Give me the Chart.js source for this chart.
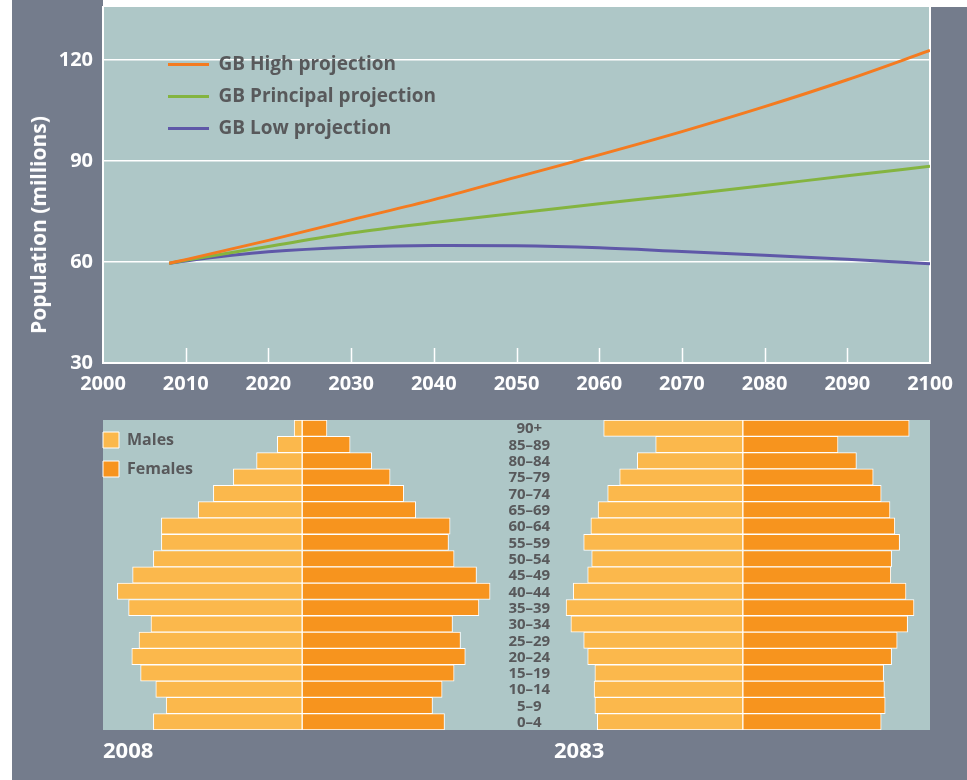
<!DOCTYPE html>
<html><head><meta charset="utf-8">
<script src="https://cdn.jsdelivr.net/npm/chart.js@4.4.1/dist/chart.umd.min.js"></script>
<style>
html,body{margin:0;padding:0;background:#fff;width:967px;height:780px;overflow:hidden;font-family:'Open Sans',sans-serif;}
#frame{position:absolute;left:12px;top:0;width:955px;height:780px;background:#747c8c;}
#topstrip{position:absolute;left:103px;top:0;width:864px;height:7px;background:#fff;}
#c1{position:absolute;left:12px;top:0;}
#c2{position:absolute;left:12px;top:400px;}
.ytitle{position:absolute;left:38px;top:225px;transform:translate(-50%,-50%) rotate(-90deg);color:#fff;font-weight:700;font-size:21px;white-space:nowrap;line-height:24px;}
.year{position:absolute;color:#fff;font-weight:700;font-size:22px;top:736px;line-height:26px;}
</style></head>
<body>
<div id="frame"></div>
<div id="topstrip"></div>
<canvas id="c1" width="955" height="400"></canvas>
<canvas id="c2" width="955" height="380"></canvas>
<div class="ytitle">Population (millions)</div>
<div class="year" id="y1" style="left:103px"></div>
<div class="year" id="y2" style="left:554px"></div>
<script>
// ---------- data: population projections (millions) ----------
const years = [2008, 2010, 2020, 2030, 2040, 2050, 2060, 2070, 2080, 2090, 2100];
const highProjection      = [59.6, 60.7, 66.4, 72.5, 78.5, 85.2, 91.8, 98.7, 106.1, 114.1, 122.8];
const principalProjection = [59.6, 60.5, 64.6, 68.6, 71.7, 74.5, 77.3, 79.9, 82.7, 85.6, 88.4];
const lowProjection       = [59.6, 60.3, 63.0, 64.4, 64.9, 64.8, 64.2, 63.1, 62.0, 60.8, 59.5];
const seriesNames = ['GB High projection', 'GB Principal projection', 'GB Low projection'];
const yTickValues = [30, 60, 90, 120];
const xTickValues = [2000, 2010, 2020, 2030, 2040, 2050, 2060, 2070, 2080, 2090, 2100];

// ---------- data: age pyramids (millions per sex) ----------
const pyramidYears = ['2008', '2083'];
const sexNames = ['Males', 'Females'];
const ageGroups = ['90+', '85–89', '80–84', '75–79', '70–74', '65–69', '60–64', '55–59', '50–54', '45–49',
                   '40–44', '35–39', '30–34', '25–29', '20–24', '15–19', '10–14', '5–9', '0–4'];
const males2008   = [0.10, 0.31, 0.57, 0.86, 1.11, 1.30, 1.76, 1.76, 1.86, 2.12, 2.31, 2.17, 1.89, 2.04, 2.13, 2.02, 1.83, 1.70, 1.86];
const females2008 = [0.31, 0.60, 0.87, 1.10, 1.27, 1.42, 1.85, 1.83, 1.90, 2.18, 2.35, 2.21, 1.88, 1.98, 2.04, 1.90, 1.75, 1.63, 1.78];
const males2083   = [1.74, 1.09, 1.32, 1.54, 1.69, 1.81, 1.90, 1.99, 1.89, 1.94, 2.12, 2.21, 2.15, 1.99, 1.94, 1.85, 1.86, 1.85, 1.82];
const females2083 = [2.08, 1.19, 1.42, 1.63, 1.73, 1.84, 1.90, 1.96, 1.86, 1.85, 2.04, 2.14, 2.06, 1.93, 1.86, 1.76, 1.77, 1.78, 1.73];

// ---------- styles ----------
const FONT = "'Open Sans', sans-serif";
const TEAL = '#aec7c7';
const TEXT_DARK = '#58595b';
const lineColors = ['#f47b20', '#84b440', '#5f58a8'];
const maleColor = '#fbb84c';
const femaleColor = '#f7941e';

Chart.defaults.font.family = FONT;
document.getElementById('y1').textContent = pyramidYears[0];
document.getElementById('y2').textContent = pyramidYears[1];

const areaBg = {
  id: 'areaBg',
  beforeDraw(chart) {
    const {ctx, chartArea: a} = chart;
    ctx.save(); ctx.fillStyle = TEAL; ctx.fillRect(a.left, a.top, a.right - a.left, a.bottom - a.top); ctx.restore();
  }
};
const legendShift = {
  id: 'legendShift',
  afterLayout(chart, args, opts) {
    const lg = chart.legend; if (!lg) return;
    const a = chart.chartArea;
    const w = lg.right - lg.left, h = lg.bottom - lg.top;
    lg.left = a.left + opts.dx; lg.top = a.top + opts.dy;
    lg.right = lg.left + w; lg.bottom = lg.top + h;
  }
};
const innerTicks = {
  id: 'innerTicks',
  afterDraw(chart) {
    const {ctx, chartArea: a} = chart;
    const xs = chart.scales.x;
    ctx.save(); ctx.strokeStyle = '#ffffff'; ctx.lineWidth = 1.5;
    xs.ticks.forEach(t => {
      if (t.value <= xs.min || t.value >= xs.max) return;
      const px = Math.round(xs.getPixelForValue(t.value)) + 0.5;
      ctx.beginPath(); ctx.moveTo(px, a.bottom); ctx.lineTo(px, a.bottom - 15); ctx.stroke();
    });
    ctx.restore();
  }
};

const toXY = arr => arr.map((v, i) => ({x: years[i], y: v}));
new Chart(document.getElementById('c1'), {
  type: 'line',
  data: {
    datasets: [highProjection, principalProjection, lowProjection].map((arr, i) => ({
      label: seriesNames[i], data: toXY(arr), borderColor: lineColors[i], backgroundColor: lineColors[i],
      borderWidth: 3, pointRadius: 0, cubicInterpolationMode: 'monotone', fill: false
    }))
  },
  options: {
    responsive: false, animation: false, devicePixelRatio: 1,
    layout: {autoPadding: false, padding: {top: 7, right: 37, left: 0, bottom: 0}},
    plugins: {
      tooltip: {enabled: false},
      legend: {
        position: 'chartArea', align: 'start',
        labels: {usePointStyle: true, pointStyle: 'line', pointStyleWidth: 41, padding: 13,
                 color: TEXT_DARK, font: {size: 19, weight: 'bold'}}
      },
      legendShift: {dx: 52, dy: 35}
    },
    scales: {
      x: {
        type: 'linear', min: 2000, max: 2100,
        afterBuildTicks: s => { s.ticks = xTickValues.map(v => ({value: v})); },
        afterFit: s => { s.height = 37; s.paddingLeft = 0; s.paddingRight = 0; },
        grid: {drawTicks: false, lineWidth: 2, color: c => (c.tick && c.tick.value === 2100) ? '#ffffff' : 'rgba(0,0,0,0)'},
        border: {color: '#ffffff', width: 2},
        ticks: {color: '#ffffff', padding: 9, font: {size: 20, weight: 'bold'}, maxRotation: 0, autoSkip: false,
                callback: v => String(v)}
      },
      y: {
        type: 'linear', min: 30, max: 135.7,
        afterBuildTicks: s => { s.ticks = yTickValues.map(v => ({value: v})); },
        afterFit: s => { s.width = 91; s.paddingTop = 0; s.paddingBottom = 0; },
        grid: {drawTicks: false, color: '#ffffff', lineWidth: 1.5},
        border: {color: '#ffffff', width: 2},
        ticks: {color: '#ffffff', padding: 10, font: {size: 20, weight: 'bold'}, callback: v => String(v)}
      }
    }
  },
  plugins: [areaBg, legendShift, innerTicks]
});

const ageLabels = {
  id: 'ageLabels',
  afterDatasetsDraw(chart, args, opts) {
    const {ctx} = chart;
    const ys = chart.scales.y, xs = chart.scales.x2;
    const x = xs.getPixelForValue(opts.at);
    ctx.save();
    ctx.fillStyle = TEXT_DARK; ctx.font = `bold 15px ${FONT}`;
    ctx.textAlign = 'center'; ctx.textBaseline = 'middle';
    ageGroups.forEach((g, i) => ctx.fillText(g, x, ys.getPixelForValue(i) + 1));
    ctx.restore();
  }
};
const barCommon = {borderColor: '#ffffff', borderWidth: 1, borderSkipped: false, barPercentage: 1, categoryPercentage: 1, grouped: false};
new Chart(document.getElementById('c2'), {
  type: 'bar',
  data: {
    labels: ageGroups,
    datasets: [
      {...barCommon, label: sexNames[0], data: males2008.map(v => -v), xAxisID: 'x1', backgroundColor: maleColor},
      {...barCommon, label: sexNames[1], data: females2008, xAxisID: 'x1', backgroundColor: femaleColor},
      {...barCommon, label: sexNames[0] + ' ' + pyramidYears[1], data: males2083.map(v => -v), xAxisID: 'x2', backgroundColor: maleColor},
      {...barCommon, label: sexNames[1] + ' ' + pyramidYears[1], data: females2083, xAxisID: 'x2', backgroundColor: femaleColor}
    ]
  },
  options: {
    indexAxis: 'y', responsive: false, animation: false, devicePixelRatio: 1,
    layout: {autoPadding: false, padding: {left: 91, right: 37, top: 20, bottom: 50}},
    plugins: {
      tooltip: {enabled: false},
      legend: {
        position: 'chartArea', align: 'start',
        labels: {filter: item => item.datasetIndex < 2, boxWidth: 16, boxHeight: 16, padding: 13,
                 color: TEXT_DARK, font: {size: 16, weight: 'bold'}}
      },
      legendShift: {dx: -13, dy: -1},
      ageLabels: {at: -2.67}
    },
    scales: {
      y: {type: 'category', display: false, offset: true},
      x1: {type: 'linear', axis: 'x', position: 'bottom', min: -2.49, max: 7.85, display: false},
      x2: {type: 'linear', axis: 'x', position: 'bottom', min: -8.0, max: 2.34, display: false}
    }
  },
  plugins: [areaBg, legendShift, ageLabels]
});
</script>
</body></html>
